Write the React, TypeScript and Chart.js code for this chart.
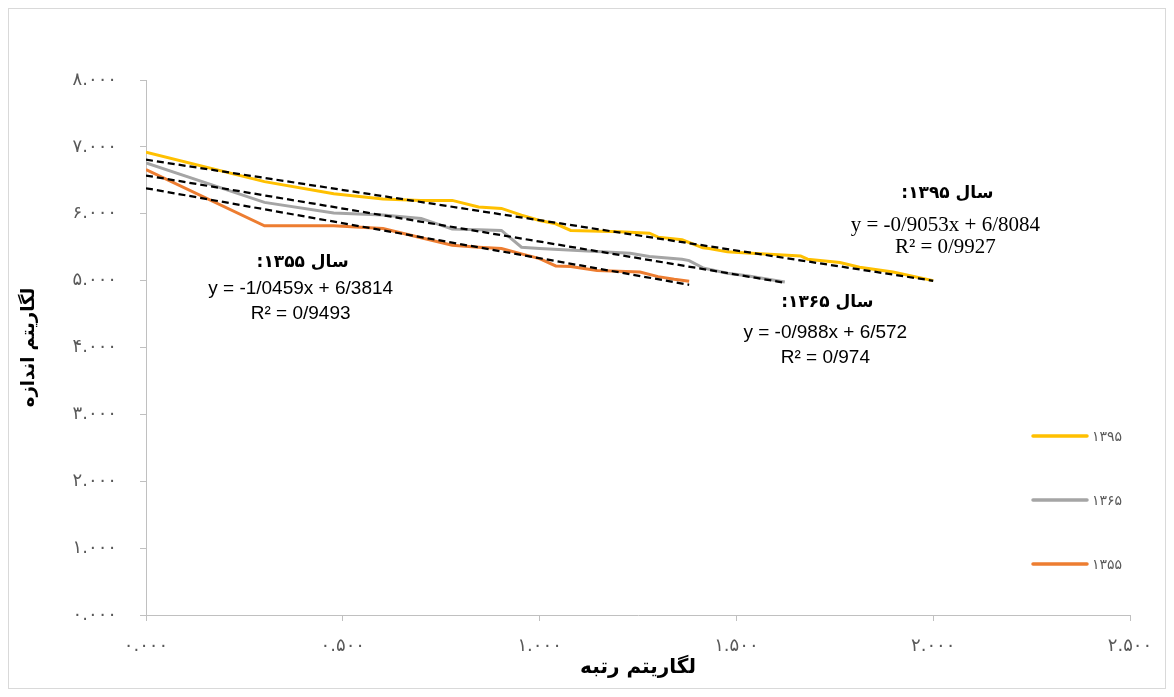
import React, { useEffect, useRef } from 'react';
import { Chart, registerables } from 'chart.js';

Chart.register(...registerables);

// ---- data ----
const seriesNames = ['۱۳۹۵', '۱۳۶۵', '۱۳۵۵'];
const seriesColors = ['#FFC000', '#A5A5A5', '#ED7D31'];

// log(rank) / log(size)
const x1395 = [0, 0.301, 0.477, 0.602, 0.699, 0.778, 0.845, 0.903, 0.954, 1.0, 1.041, 1.079, 1.204, 1.279, 1.301, 1.362, 1.415, 1.431, 1.477, 1.505, 1.663, 1.681, 1.763, 1.813, 1.898, 2.0];
const y1395 = [6.92, 6.48, 6.30, 6.22, 6.20, 6.20, 6.10, 6.08, 5.98, 5.90, 5.85, 5.75, 5.73, 5.71, 5.65, 5.61, 5.49, 5.48, 5.43, 5.42, 5.37, 5.32, 5.27, 5.20, 5.13, 5.00];

const x1365 = [0, 0.301, 0.477, 0.602, 0.699, 0.778, 0.845, 0.903, 0.954, 1.0, 1.230, 1.279, 1.362, 1.380, 1.415, 1.477, 1.531, 1.623];
const y1365 = [6.76, 6.17, 6.01, 5.98, 5.93, 5.77, 5.76, 5.75, 5.50, 5.48, 5.41, 5.36, 5.32, 5.30, 5.19, 5.11, 5.07, 4.98];

const x1355 = [0, 0.301, 0.477, 0.602, 0.699, 0.778, 0.845, 0.903, 0.954, 1.0, 1.041, 1.079, 1.146, 1.255, 1.301, 1.342, 1.380];
const y1355 = [6.66, 5.82, 5.82, 5.78, 5.64, 5.53, 5.50, 5.48, 5.40, 5.33, 5.22, 5.21, 5.15, 5.13, 5.06, 5.02, 4.99];

// linear trend lines (from the printed equations)
const trendSlopes = [-0.9053, -0.988, -1.0459];
const trendIntercepts = [6.8084, 6.572, 6.3814];
const trendXEnd = [2.0, 1.623, 1.380];

// annotations
const annoTitles = ['سال ۱۳۹۵:', 'سال ۱۳۶۵:', 'سال ۱۳۵۵:'];
const annoEquations = ['y = -0/9053x + 6/8084', 'y = -0/988x + 6/572', 'y = -1/0459x + 6/3814'];
const annoR2 = ['R² = 0/9927', 'R² = 0/974', 'R² = 0/9493'];
const annoX = [2.036, 1.731, 0.398];
const annoTitleY = [6.308, 4.679, 5.277];
const annoEqY = [5.83, 4.215, 4.873];
const annoR2Y = [5.5, 3.84, 4.5];

// ticks
const xTickLabels = ['۰.۰۰۰', '۰.۵۰۰', '۱.۰۰۰', '۱.۵۰۰', '۲.۰۰۰', '۲.۵۰۰'];
const yTickLabels = ['۰.۰۰۰', '۱.۰۰۰', '۲.۰۰۰', '۳.۰۰۰', '۴.۰۰۰', '۵.۰۰۰', '۶.۰۰۰', '۷.۰۰۰', '۸.۰۰۰'];
const xAxisTitle = 'لگاریتم رتبه';
const yAxisTitle = 'لگاریتم اندازه';

const PERSIAN_FONT = '"DejaVu Sans", sans-serif';
const TICK_FONT = '"DejaVu Sans", sans-serif';

function zip(xs: number[], ys: number[]) {
  return xs.map((x, i) => ({ x, y: ys[i] }));
}

const annotationPlugin = {
  id: 'annotations',
  afterDatasetsDraw(chart: any) {
    const { ctx, scales } = chart;
    const xs = scales.x;
    const ys = scales.y;
    ctx.save();
    ctx.fillStyle = '#000';
    ctx.textAlign = 'center';
    ctx.textBaseline = 'middle';
    for (let i = 0; i < annoTitles.length; i++) {
      const px = xs.getPixelForValue(annoX[i]);
      ctx.direction = 'rtl';
      ctx.font = 'bold 17px ' + PERSIAN_FONT;
      ctx.fillText(annoTitles[i], px, ys.getPixelForValue(annoTitleY[i]));
      ctx.direction = 'ltr';
      ctx.font = i === 0 ? '21px "Liberation Serif", serif' : '19px "Liberation Sans", sans-serif';
      ctx.fillText(annoEquations[i], px - 2, ys.getPixelForValue(annoEqY[i]));
      ctx.fillText(annoR2[i], px - 2, ys.getPixelForValue(annoR2Y[i]));
    }
    ctx.restore();
  },
};

const legendPlugin = {
  id: 'customLegend',
  afterDraw(chart: any) {
    const { ctx } = chart;
    ctx.save();
    const x0 = 1024;
    const x1 = 1078;
    const ys = [427, 491, 555];
    for (let i = 0; i < seriesNames.length; i++) {
      const ds = chart.data.datasets[i];
      ctx.strokeStyle = ds.borderColor;
      ctx.lineWidth = 3.5;
      ctx.lineCap = 'round';
      ctx.beginPath();
      ctx.moveTo(x0, ys[i]);
      ctx.lineTo(x1, ys[i]);
      ctx.stroke();
      ctx.fillStyle = '#595959';
      ctx.font = '14px ' + TICK_FONT;
      ctx.textAlign = 'left';
      ctx.textBaseline = 'middle';
      ctx.fillText(ds.label, x1 + 5, ys[i] + 1);
    }
    ctx.restore();
  },
};

export default function App() {
  const ref = useRef<HTMLCanvasElement | null>(null);

  useEffect(() => {
    if (!ref.current) return;
    const seriesX = [x1395, x1365, x1355];
    const seriesY = [y1395, y1365, y1355];
    const datasets: any[] = seriesNames.map((name, i) => ({
      label: name,
      data: zip(seriesX[i], seriesY[i]),
      borderColor: seriesColors[i],
      backgroundColor: seriesColors[i],
      borderWidth: 3,
      pointRadius: 0,
      tension: 0,
      fill: false,
      order: 1,
    }));
    trendSlopes.forEach((m, i) => {
      datasets.push({
        label: 'trend ' + seriesNames[i],
        data: [
          { x: 0, y: trendIntercepts[i] },
          { x: trendXEnd[i], y: m * trendXEnd[i] + trendIntercepts[i] },
        ],
        borderColor: '#000000',
        borderWidth: 2.25,
        borderDash: [7, 4],
        pointRadius: 0,
        tension: 0,
        fill: false,
        order: 0,
      });
    });

    const grid = {
      display: true,
      drawOnChartArea: false,
      drawTicks: true,
      tickLength: 6,
      color: '#c0c0c0',
    };

    const chart = new Chart(ref.current, {
      type: 'line',
      data: { datasets },
      options: {
        animation: false,
        responsive: false,
        maintainAspectRatio: false,
        layout: { padding: { top: 71, right: 35, left: 0, bottom: 0 } },
        plugins: { legend: { display: false }, tooltip: { enabled: false } },
        scales: {
          x: {
            type: 'linear',
            min: 0,
            max: 2.5,
            ticks: {
              stepSize: 0.5,
              padding: 15,
              color: '#595959',
              font: { family: TICK_FONT, size: 18 },
              maxRotation: 0,
              callback: (_v: any, i: number) => xTickLabels[i],
            },
            grid,
            border: { display: true, color: '#c0c0c0', width: 1 },
            title: {
              display: true,
              text: xAxisTitle,
              color: '#000',
              font: { family: PERSIAN_FONT, size: 20, weight: 'bold' },
              padding: { top: 0, bottom: 8 },
            },
            afterFit: (s: any) => {
              s.height = 73;
              s.paddingLeft = 0;
              s.paddingRight = 0;
            },
          },
          y: {
            type: 'linear',
            min: 0,
            max: 8,
            ticks: {
              stepSize: 1,
              padding: 23,
              color: '#595959',
              font: { family: TICK_FONT, size: 18 },
              callback: (_v: any, i: number) => yTickLabels[i],
            },
            grid,
            border: { display: true, color: '#c0c0c0', width: 1 },
            title: {
              display: true,
              text: yAxisTitle,
              color: '#000',
              font: { family: PERSIAN_FONT, size: 18, weight: 'bold' },
              padding: { top: 10, bottom: 0 },
            },
            afterFit: (s: any) => {
              s.width = 137;
              s.paddingTop = 0;
              s.paddingBottom = 0;
            },
          },
        },
      },
      plugins: [annotationPlugin, legendPlugin],
    } as any);
    return () => chart.destroy();
  }, []);

  return (
    <div
      style={{
        width: 1158,
        height: 681,
        boxSizing: 'border-box',
        border: '1px solid #d9d9d9',
        background: '#fff',
      }}
    >
      <canvas ref={ref} width={1156} height={679} style={{ display: 'block', width: 1156, height: 679 }} />
    </div>
  );
}
